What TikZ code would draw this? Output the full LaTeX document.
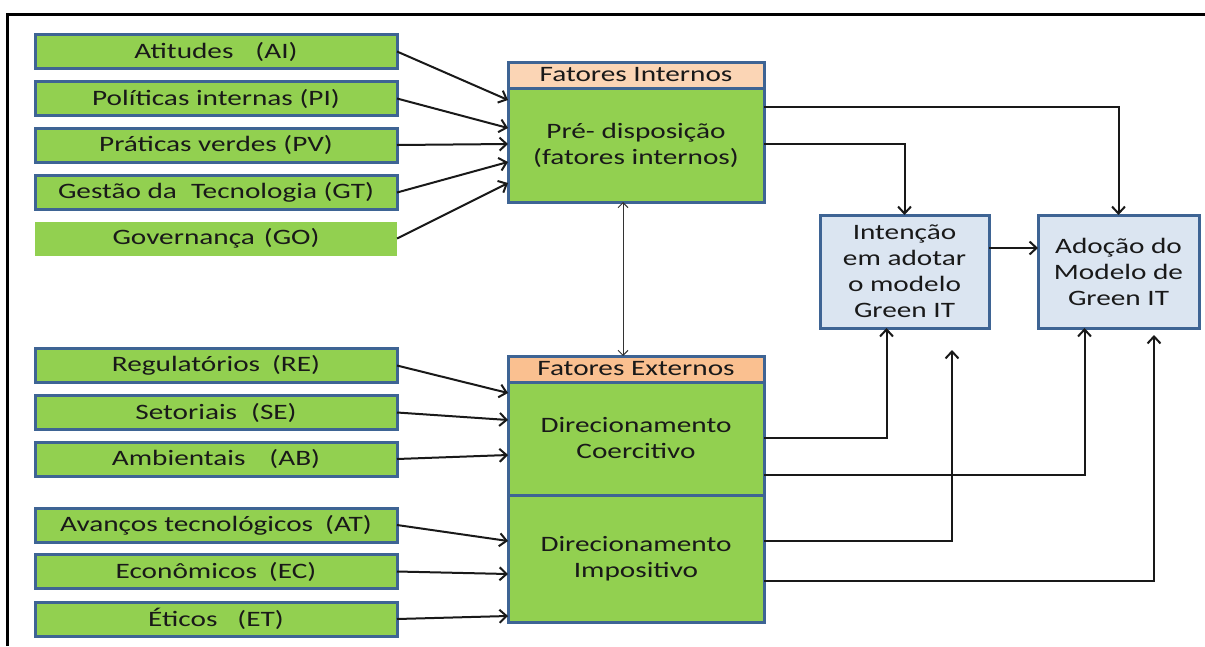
\documentclass[tikz,border=0pt]{standalone}
\usepackage{fontspec}
\setmainfont{Carlito}[FakeStretch=1.33]
\usetikzlibrary{arrows.meta,calc}

\definecolor{leafgreen}{RGB}{146,208,80}
\definecolor{edgeblue}{RGB}{62,100,148}
\definecolor{peachlight}{RGB}{251,213,181}
\definecolor{peach}{RGB}{250,192,144}
\definecolor{paleblue}{RGB}{219,229,241}

\begin{document}
\begin{tikzpicture}[x=1pt,y=-1pt,
  every node/.style={font=\fontsize{22}{26}\selectfont, text=black!90, inner sep=0pt, outer sep=0pt},
  factor/.style={draw=edgeblue, line width=3pt, fill=leafgreen, minimum width=362pt, minimum height=34pt},
  flatfactor/.style={fill=leafgreen, minimum width=362pt, minimum height=34pt},
  header/.style={draw=edgeblue, line width=3pt, minimum width=256pt, minimum height=26pt},
  block/.style={draw=edgeblue, line width=3pt, fill=leafgreen, minimum width=256pt, align=center},
  outcome/.style={draw=edgeblue, line width=3pt, fill=paleblue, minimum height=113pt, align=center},
  conn/.style={draw=black!90, line width=2pt, -{Straight Barb[length=7pt,width=13pt]}},
  link/.style={draw=black!80, line width=1pt, {Straight Barb[length=5pt,width=10pt]}-{Straight Barb[length=5pt,width=10pt]}}
]
\useasboundingbox (0,0) rectangle (1205,646);
\fill[white] (0,0) rectangle (1205,646);

% outer frame
\draw[line width=3pt] (7,646) -- (7,14) -- (1205,14);

% internal factors
\node[factor] (ai) at (216,51.5) {Atitudes\hspace{22pt}(AI)};
\node[factor] (pi) at (216,98.5) {Políticas internas (PI)};
\node[factor] (pv) at (216,145) {Práticas verdes (PV)};
\node[factor] (gt) at (216,192.5) {Gestão da\hspace{14pt}Tecnologia (GT)};
\node[flatfactor] (go) at (216,238.5) {Governança\hspace{9pt}(GO)};

% external factors
\node[factor] (re) at (216,365.5) {Regulatórios\hspace{12pt}(RE)};
\node[factor] (se) at (216,412.5) {Setoriais\hspace{14pt}(SE)};
\node[factor] (ab) at (216,459) {Ambientais\hspace{24pt}(AB)};
\node[factor] (at) at (216,525) {Avanços tecnológicos\hspace{12pt}(AT)};
\node[factor] (ec) at (216,571.5) {Econômicos\hspace{12pt}(EC)};
\node[factor] (et) at (216,619) {Éticos\hspace{20pt}(ET)};

% internal block
\node[header, fill=peachlight] (ih) at (636,75) {Fatores Internos};
\node[block, minimum height=114pt] (ib) at (636,145) {Pré- disposição\\(fatores internos)};

% external block
\node[header, fill=peach] (eh) at (636,369) {Fatores Externos};
\node[block, minimum height=113pt] (co) at (636,438.5) {Direcionamento\\Coercitivo};
\node[block, minimum height=127pt] (im) at (636,558.5) {Direcionamento\\Impositivo};

% outcomes
\node[outcome, minimum width=169pt] (in) at (904.5,271.5) {Intenção\\em adotar\\o modelo\\Green IT};
\node[outcome, minimum width=161pt] (ad) at (1118.5,271.5) {Adoção do\\Modelo de\\Green IT};

% inputs to the internal block
\draw[conn] (ai.east) -- ($(ib.north west)+(0,12)$);
\draw[conn] (pi.east) -- ($(ib.north west)+(0,40)$);
\draw[conn] (pv.east) -- ($(ib.north west)+(0,56)$);
\draw[conn] (gt.east) -- ($(ib.north west)+(0,74)$);
\draw[conn] (go.east) -- ($(ib.north west)+(0,95)$);

% inputs to the external block
\draw[conn] (re.east) -- ($(co.north west)+(0,11)$);
\draw[conn] (se.east) -- ($(co.north west)+(0,38)$);
\draw[conn] (ab.east) -- ($(co.north west)+(0,73)$);
\draw[conn] (at.east) -- ($(im.north west)+(0,46)$);
\draw[conn] (ec.east) -- ($(im.north west)+(0,79)$);
\draw[conn] (et.east) -- ($(im.north west)+(0,121)$);

% link between the two blocks
\draw[link] ($(ib.south)+(-13,0)$) -- ($(eh.north)+(-13,0)$);

% outputs of the internal block
\draw[conn] ($(ib.north east)+(0,19)$) -| (ad.north);
\draw[conn] ($(ib.north east)+(0,56)$) -| (in.north);

% intention to adoption
\draw[conn] ($(in.north east)+(0,33)$) -- ($(ad.north west)+(0,33)$);

% outputs of the external block
\coordinate (imA) at (952,350);
\coordinate (imB) at (1154,335);
\draw[conn] ($(co.north east)+(0,56)$) -| ($(in.south)+(-18,0)$);
\draw[conn] ($(co.north east)+(0,93)$) -| ($(ad.south)+(-34,0)$);
\draw[conn] ($(im.north east)+(0,46)$) -| (imA);
\draw[conn] ($(im.north east)+(0,86)$) -| (imB);
\end{tikzpicture}
\end{document}
